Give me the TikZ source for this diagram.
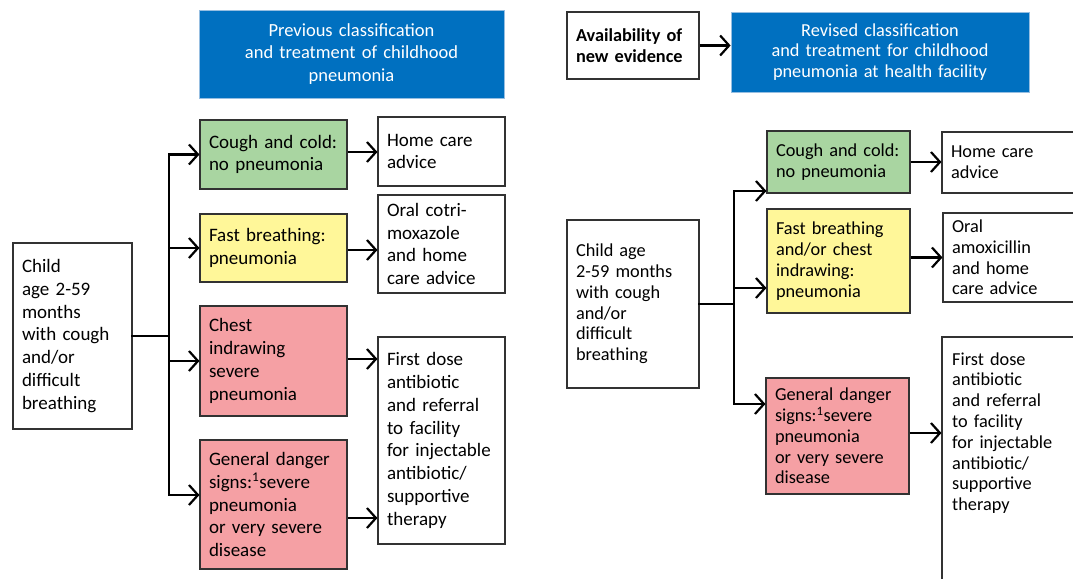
\documentclass[tikz,border=0pt]{standalone}
\usepackage{fontspec}
\setmainfont{Carlito}
\usetikzlibrary{arrows.meta}
\definecolor{hblue}{RGB}{0,112,192}
\definecolor{hbord}{RGB}{150,190,225}
\definecolor{cgreen}{RGB}{169,213,161}
\definecolor{cyellow}{RGB}{255,247,153}
\definecolor{cred}{RGB}{245,160,164}
\definecolor{bord}{RGB}{50,50,50}
\newcommand\bx[7][]{%
  \pgfmathsetmacro\bxw{#5-#3}%
  \pgfmathsetmacro\bxh{#6-#4}%
  \pgfmathsetmacro\bxt{#5-#3-18}%
  \node[box,#1,minimum width=\bxw pt,minimum height=\bxh pt,text width=\bxt pt]
    (#2) at ({(#3+#5)/2},{(#4+#6)/2}) {#7};}
\begin{document}
\begin{tikzpicture}[x=1pt,y=-1pt,
  box/.style={draw=bord,line width=1.1pt,fill=white,align=left,inner xsep=4pt,inner ysep=0pt},
  lf/.style={font=\fontsize{19}{22.8}\selectfont},
  rf/.style={font=\fontsize{18.3}{20.8}\selectfont},
  head/.style={fill=hblue,draw=hbord,line width=0.8pt,text=white,align=center},
  green/.style={fill=cgreen},
  yellow/.style={fill=cyellow},
  red/.style={fill=cred},
  conn/.style={line width=2.2pt,line cap=rect},
  arr/.style={line width=2.2pt,-{Straight Barb[length=9pt,width=20pt]}}]
\useasboundingbox (0,0) rectangle (1073,578);
\clip (0,0) rectangle (1073,578);
\fill[white] (0,0) rectangle (1073,578);

% ---------- left panel ----------
\bx[head,font=\fontsize{18.5}{22.6}\selectfont]{lhead}{199}{10}{504}{98}{Previous classification\\and treatment of childhood\\pneumonia}
\bx[lf]{child}{13}{243}{132}{429}{Child\\age 2-59\\months\\with cough\\and/or\\difficult\\breathing}
\bx[lf,green]{cough}{200}{120}{347}{189}{\mbox{Cough and cold:}\\no pneumonia}
\bx[lf,yellow]{fast}{200}{214}{347}{282}{Fast breathing:\\pneumonia}
\bx[lf,red]{chest}{200}{306}{347}{416}{Chest\\indrawing\\severe\\pneumonia}
\bx[lf,red]{gen}{200}{440}{347}{569}{General danger\\signs:\textsuperscript{1}severe\\pneumonia\\or very severe\\disease}
\bx[lf]{home}{378}{117}{505}{186}{Home care\\advice}
\bx[lf]{oral}{378}{195}{505}{293}{Oral cotri-\\moxazole\\and home\\care advice}
\bx[lf]{first}{378}{337}{505}{544}{First dose\\antibiotic\\and referral\\to facility\\for injectable\\antibiotic/\\supportive\\therapy}

\coordinate (lt) at (169,336);
\draw[conn] (child.east) -- (lt |- child.east);
\draw[conn] (lt |- cough.west) -- (lt |- 0,495);
\draw[arr] (lt |- cough.west) -- (cough.west);
\draw[arr] (lt |- fast.west) -- (fast.west);
\draw[arr] (lt |- chest.west) -- (chest.west);
\draw[arr] (lt |- 0,495) -- (gen.west |- 0,495);
\draw[arr] (cough.east |- 0,152) -- (home.west |- 0,152);
\draw[arr] (fast.east |- 0,250) -- (oral.west |- 0,250);
\draw[arr] (chest.east |- 0,359) -- (first.west |- 0,359);
\draw[arr] (gen.east |- 0,518) -- (first.west |- 0,518);

% ---------- right panel ----------
\bx[font=\bfseries\fontsize{18.3}{21}\selectfont]{avail}{567}{12}{699}{79}{Availability of\\new evidence}
\bx[head,font=\fontsize{18.3}{20.2}\selectfont]{rhead}{731}{12}{1029}{92}{Revised classification\\and treatment for childhood\\pneumonia at health facility}
\draw[arr] (avail.east) -- (rhead.west |- avail.east);

\bx[rf]{rchild}{567}{220}{699}{388}{Child age\\2-59 months\\with cough\\and/or\\difficult\\breathing}
\bx[rf,green]{rcough}{767}{131}{910}{193}{\mbox{Cough and cold:}\\no pneumonia}
\bx[rf,yellow]{rfast}{767}{209}{910}{313}{Fast breathing\\and/or chest\\indrawing:\\pneumonia}
\bx[rf,red]{rgen}{766}{378}{909}{494}{General danger\\signs:\textsuperscript{1}severe\\pneumonia\\or very severe\\disease}
\bx[rf]{rhome}{942}{132}{1090}{193}{Home care\\advice}
\bx[rf]{roral}{943}{213}{1090}{302}{Oral\\amoxicillin\\and home\\care advice}
\bx{rfirst}{942}{337}{1090}{600}{}
\node[rf,anchor=west,align=left,text width=125pt,inner sep=0pt] (rfirst-t) at (952,433)
  {First dose\\antibiotic\\and referral\\to facility\\for injectable\\antibiotic/\\supportive\\therapy};

\coordinate (rt) at (734,304);
\draw[conn] (rchild.east) -- (rt |- rchild.east);
\draw[conn] (rt |- 0,191) -- (rt |- 0,404);
\draw[arr] (rt |- 0,191) -- (rcough.west |- 0,191);
\draw[arr] (rt |- 0,288) -- (rfast.west |- 0,288);
\draw[arr] (rt |- 0,404) -- (rgen.west |- 0,404);
\draw[arr] (rcough.east) -- (rhome.west |- rcough.east);
\draw[arr] (rfast.east |- roral.west) -- (roral.west);
\draw[arr] (rgen.east |- 0,433) -- (rfirst.west |- 0,433);
\end{tikzpicture}
\end{document}
